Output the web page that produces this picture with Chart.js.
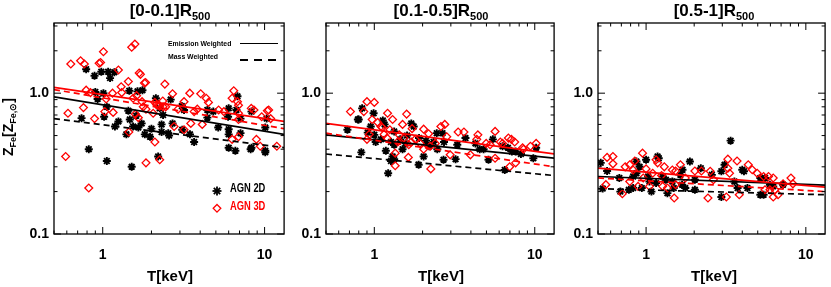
<!DOCTYPE html>
<html>
<head>
<meta charset="utf-8">
<script src="https://cdn.jsdelivr.net/npm/chart.js@4.4.1/dist/chart.umd.min.js"></script>
<style>
body { margin: 0; background: #fff; }
#wrap { position: relative; width: 831px; height: 287px; overflow: hidden;
        font-family: "Liberation Sans", Arial, sans-serif; font-weight: bold; color: #000; }
canvas { position: absolute; top: 0; }
.title { position: absolute; top: 1px; font-size: 17px; transform: translateX(-50%); white-space: nowrap; }
.title sub { font-size: 11px; vertical-align: -4px; }
.xlab { position: absolute; top: 267px; font-size: 15px; transform: translateX(-50%); white-space: nowrap; }
.ylab { position: absolute; left: 9px; top: 127px; font-size: 14px; white-space: nowrap;
        transform: translate(-50%, -50%) rotate(-90deg); }
.ylab sub { font-size: 9px; vertical-align: -3px; }
.lg { position: absolute; font-size: 8px; white-space: nowrap; line-height: 10px; transform: scaleX(0.86); transform-origin: left center; }
.agn { position: absolute; font-size: 12px; white-space: nowrap; line-height: 14px; transform: scaleX(0.78); transform-origin: left center; }
</style>
</head>
<body>
<div id="wrap">
  <canvas id="c1" width="290" height="287" style="left:0px"></canvas>
  <canvas id="c2" width="270" height="287" style="left:290px"></canvas>
  <canvas id="c3" width="271" height="287" style="left:560px"></canvas>

  <div class="title" style="left:170px">[0-0.1]R<sub>500</sub></div>
  <div class="title" style="left:441px">[0.1-0.5]R<sub>500</sub></div>
  <div class="title" style="left:714px">[0.5-1]R<sub>500</sub></div>

  <div class="xlab" style="left:170px">T[keV]</div>
  <div class="xlab" style="left:441px">T[keV]</div>
  <div class="xlab" style="left:714px">T[keV]</div>

  <div class="ylab">Z<sub>Fe</sub>[Z<sub>Fe,⊙</sub>]</div>

  <div class="lg" style="left:168px; top:39px">Emission Weighted</div>
  <div style="position:absolute; left:240px; top:43px; width:38px; height:0; border-top:1.6px solid #000"></div>
  <div class="lg" style="left:168px; top:52px">Mass Weighted</div>
  <div style="position:absolute; left:240px; top:59px; width:38px; height:1.6px;
              background:repeating-linear-gradient(90deg,#000 0 8px,transparent 8px 14px)"></div>

  <svg style="position:absolute; left:212px; top:185px" width="12" height="30">
    <g stroke="#000" stroke-width="1.8">
      <line x1="5" y1="1.5" x2="5" y2="10.5"/><line x1="0.5" y1="6" x2="9.5" y2="6"/>
      <line x1="1.8" y1="2.8" x2="8.2" y2="9.2"/><line x1="8.2" y1="2.8" x2="1.8" y2="9.2"/>
    </g>
    <path d="M5 19.5 L8.8 23.3 L5 27.1 L1.2 23.3 Z" fill="none" stroke="#f00" stroke-width="1.3"/>
  </svg>
  <div class="agn" style="left:230px; top:181px">AGN 2D</div>
  <div class="agn" style="left:230px; top:199px; color:#f00">AGN 3D</div>
</div>

<script>
// axis ranges and ticks (shared by all three panels)
const T_MIN = 0.5, T_MAX = 13.2;
const Z_MIN = 0.1, Z_MAX = 3.15;
const X_TICKS = [0.5, 0.6, 0.7, 0.8, 0.9, 1, 2, 3, 4, 5, 6, 7, 8, 9, 10];
const X_MAJOR = [1, 10];
const X_LABELS = ['1', '10'];
const Y_TICKS = [0.1, 0.2, 0.3, 0.4, 0.5, 0.6, 0.7, 0.8, 0.9, 1, 2, 3];
const Y_MAJOR = [0.1, 1];
const Y_LABELS = ['0.1', '1.0'];

// end points of the power-law fits, T values
const FIT_T = [0.5, 13.2];

// [0-0.1] R500
const p1_agn2d = [
  [0.79,1.48],[0.89,1.33],[0.98,1.42],[1.08,1.42],[1.18,1.41],[1.11,1.28],[0.90,1.02],[1.01,1.0],
  [0.93,0.91],[1.46,1.04],[1.64,1.03],[1.76,1.05],[1.06,0.80],[1.44,0.75],[1.61,0.69],[0.74,0.665],
  [1.02,0.68],[1.19,0.58],[1.25,0.63],[1.54,0.58],[1.66,0.57],[1.74,0.61],[2.0,0.56],[1.40,0.51],
  [1.82,0.51],[1.96,0.49],[2.31,0.60],[2.31,0.53],[0.82,0.40],[1.06,0.33],[1.51,0.30],[2.20,0.355],
  [2.25,0.78],[2.36,0.70],[1.47,0.65],[2.54,0.52],[2.13,0.92],
  [2.63,0.90],[3.08,0.81],[3.18,0.76],[2.7,0.61],[3.1,0.55],[3.46,0.51],[3.67,0.45],[4.43,0.76],
  [4.82,0.74],[4.43,0.67],[5.17,0.57],[6.0,0.78],[5.95,0.68],[6.8,0.95],[7.1,0.66],[7.1,0.52],
  [6.0,0.51],[6.0,0.41],[6.6,0.39],[8.3,0.41],[8.2,0.40],[10.1,0.57],[10.3,0.66],[10.1,0.39],
  [2.57,0.50],[10.1,0.38],[6.7,0.76],[8.3,0.74],[6.0,0.555]
];
const p1_agn3d = [
  [1.58,2.23],[1.51,2.12],[1.01,1.97],[0.635,1.61],[0.73,1.70],[0.77,1.61],[0.95,1.63],[0.97,1.65],
  [1.25,1.46],[1.30,1.11],[1.68,1.39],[1.71,1.36],[1.81,1.18],[1.84,1.19],[2.42,1.16],[1.15,1.0],
  [0.79,1.05],[0.84,1.01],[1.05,0.91],[1.31,1.01],[1.54,0.92],[1.75,0.87],[2.1,0.86],[2.2,0.82],
  [2.35,0.88],[2.45,0.80],[0.61,0.72],[0.76,0.79],[0.89,0.66],[1.03,0.74],[1.16,0.73],[1.59,0.71],
  [1.66,0.67],[1.45,0.53],[2.10,0.45],[0.59,0.355],[1.85,0.32],[2.25,0.337],[0.82,0.212],
  [1.44,1.21],[1.78,0.80],[1.85,0.77],[1.62,0.96],[2.15,0.83],[2.25,0.81],[2.36,0.80],[2.05,0.72],
  [6.45,1.04],[6.3,0.92],[6.8,0.87],[3.45,1.0],[4.03,0.99],[4.36,0.92],[4.5,0.86],[3.18,0.87],
  [2.7,0.99],[2.92,0.77],[3.67,0.74],[3.84,0.77],[5.2,0.76],[5.6,0.74],[6.9,0.82],[6.9,0.72],
  [6.9,0.65],[8.6,0.76],[9.6,0.68],[10.4,0.75],[10.9,0.66],[2.76,0.58],[3.18,0.55],[3.5,0.61],
  [4.12,0.60],[6.3,0.47],[6.9,0.49],[8.9,0.47],[11.9,0.42],[9.4,0.42],[8.27,0.78],[10.6,0.76]
];
const p1_em2d = [0.94, 0.51];
const p1_mw2d = [0.66, 0.41];
const p1_em3d = [1.10, 0.63];
const p1_mw3d = [1.06, 0.56];

// [0.1-0.5] R500
const p2_agn2d = [
  [0.79,0.65],[0.80,0.65],[0.68,0.55],[0.84,0.78],[0.99,0.72],[0.91,0.525],[1.13,0.64],[1.16,0.60],
  [1.0,0.506],[1.02,0.45],[1.33,0.535],[1.70,0.61],[1.76,0.58],[1.27,0.45],[1.33,0.43],[1.57,0.44],
  [0.83,0.38],[1.18,0.39],[1.30,0.355],[1.33,0.34],[1.27,0.33],[2.03,0.355],[1.89,0.31],[1.22,0.27],
  [2.45,0.52],[2.34,0.45],[1.45,0.47],[1.6,0.50],[1.9,0.48],[2.1,0.46],[2.2,0.42],[1.5,0.40],
  [1.1,0.47],[0.95,0.58],[2.47,0.40],[3.29,0.43],[4.8,0.40],
  [2.66,0.52],[2.72,0.45],[2.70,0.337],[3.21,0.34],[3.70,0.48],[4.27,0.44],[4.54,0.40],[5.15,0.337],
  [5.48,0.47],[6.3,0.42],[6.8,0.41],[7.2,0.385],[7.6,0.385],[8.2,0.37],[6.5,0.285],[9.8,0.345],
  [10.2,0.41]
];
const p2_agn3d = [
  [0.71,0.74],[0.90,0.87],[1.0,0.86],[0.86,0.74],[0.97,0.65],[1.21,0.72],[1.59,0.71],[1.30,0.65],
  [1.10,0.58],[1.12,0.57],[0.93,0.51],[0.90,0.47],[1.15,0.51],[1.5,0.60],[1.72,0.56],[2.03,0.555],
  [2.18,0.515],[1.43,0.506],[1.53,0.48],[1.80,0.47],[1.93,0.44],[1.64,0.43],[2.03,0.40],[2.23,0.42],
  [1.35,0.375],[1.63,0.35],[1.35,0.305],[2.25,0.29],[1.25,0.55],[1.4,0.45],[1.7,0.45],[2.4,0.44],
  [1.05,0.62],[1.2,0.48],
  [2.60,0.58],[2.75,0.60],[2.83,0.49],[3.33,0.53],[3.62,0.53],[2.97,0.365],[4.42,0.506],[4.35,0.47],
  [5.66,0.535],[4.98,0.44],[5.27,0.43],[6.1,0.45],[6.3,0.44],[6.85,0.48],[7.15,0.47],[7.5,0.45],
  [8.4,0.41],[9.4,0.42],[10.2,0.44],[3.97,0.365],[5.66,0.345],[6.98,0.30],[7.6,0.32],[8.5,0.40]
];
const p2_em2d = [0.506, 0.346];
const p2_mw2d = [0.37, 0.26];
const p2_em3d = [0.61, 0.37];
const p2_mw3d = [0.52, 0.30];

// [0.5-1] R500
const p3_agn2d = [
  [0.52,0.32],[0.57,0.28],[0.535,0.21],[0.68,0.25],[0.87,0.327],[0.91,0.30],[1.0,0.337],[1.18,0.355],
  [1.2,0.345],[0.83,0.256],[0.87,0.27],[0.78,0.206],[0.83,0.212],[1.03,0.256],[1.05,0.236],[1.155,0.23],
  [1.27,0.256],[1.33,0.243],[1.36,0.195],[1.46,0.236],[1.49,0.212],[1.64,0.263],[1.69,0.286],[1.88,0.327],
  [1.68,0.224],[1.76,0.212],[2.02,0.243],[2.2,0.293],[2.02,0.206],[0.69,0.2],[0.94,0.212],[1.08,0.2],
  [3.38,0.46],[3.1,0.31],[2.96,0.279],[4.0,0.286],[4.1,0.279],[3.57,0.236],[3.74,0.212],[4.31,0.212],
  [5.19,0.25],[5.56,0.25],[5.19,0.19],[5.44,0.19],[5.96,0.224],[6.25,0.218],[7.2,0.224],[2.96,0.183],
  [2.58,0.263]
];
const p3_agn3d = [
  [0.57,0.35],[0.62,0.355],[0.62,0.315],[0.95,0.375],[0.74,0.30],[0.79,0.31],[0.83,0.285],[1.155,0.337],
  [1.18,0.32],[1.30,0.30],[1.46,0.285],[1.53,0.28],[1.64,0.31],[2.02,0.28],[2.22,0.28],[0.56,0.224],
  [0.89,0.218],[0.71,0.193],[1.05,0.218],[1.27,0.218],[1.36,0.212],[1.53,0.224],[1.76,0.25],[2.44,0.18],
  [0.96,0.25],[0.79,0.236],[1.5,0.18],[1.0,0.29],[1.1,0.27],[1.25,0.26],[0.85,0.33],
  [3.25,0.34],[3.71,0.33],[3.25,0.293],[3.33,0.27],[4.36,0.31],[4.62,0.286],[4.96,0.27],[5.44,0.256],
  [5.84,0.256],[6.25,0.25],[8.07,0.25],[8.3,0.227],[7.2,0.227],[5.55,0.206],[5.96,0.206],[6.4,0.206],
  [6.7,0.19],[6.25,0.183],[3.83,0.19],[3.18,0.183],[2.52,0.279],[2.64,0.243]
];
const p3_em2d = [0.256, 0.222];
const p3_mw2d = [0.21, 0.19];
const p3_em3d = [0.294, 0.215];
const p3_mw3d = [0.25, 0.20];

// box + inward IDL style ticks on all four sides
const framePlugin = {
  id: 'frame',
  afterDraw(chart) {
    const { ctx, chartArea: a, scales: { x, y } } = chart;
    ctx.save();
    ctx.strokeStyle = '#000';
    ctx.lineWidth = 1.3;
    ctx.strokeRect(a.left, a.top, a.right - a.left, a.bottom - a.top);
    ctx.lineWidth = 1;
    ctx.beginPath();
    Y_TICKS.forEach(v => {
      const p = y.getPixelForValue(v);
      const len = Y_MAJOR.includes(v) ? 7 : 3.5;
      ctx.moveTo(a.left, p); ctx.lineTo(a.left + len, p);
      ctx.moveTo(a.right, p); ctx.lineTo(a.right - len, p);
    });
    X_TICKS.forEach(v => {
      const p = x.getPixelForValue(v);
      const len = X_MAJOR.includes(v) ? 7 : 3.5;
      ctx.moveTo(p, a.bottom); ctx.lineTo(p, a.bottom - len);
      ctx.moveTo(p, a.top); ctx.lineTo(p, a.top + len);
    });
    ctx.stroke();
    ctx.restore();
  }
};

function fitLine(vals, color, dashed) {
  return {
    data: FIT_T.map((t, i) => ({ x: t, y: vals[i] })),
    showLine: true,
    borderColor: color,
    borderWidth: 1.7,
    borderDash: dashed ? [6, 4] : [],
    pointRadius: 0,
    fill: false
  };
}

function makePanel(id, agn2d, agn3d, em2d, mw2d, em3d, mw3d, yWidth, rightPad) {
  const tickFont = { family: 'Liberation Sans', weight: 'bold', size: 14 };
  new Chart(document.getElementById(id), {
    type: 'scatter',
    data: {
      datasets: [
        fitLine(em3d, '#ff0000', false),
        fitLine(mw3d, '#ff0000', true),
        fitLine(em2d, '#000000', false),
        fitLine(mw2d, '#000000', true),
        {
          label: 'AGN 3D',
          data: agn3d.map(([x, y]) => ({ x, y })),
          pointStyle: 'rectRot',
          pointRadius: 3.9,
          pointBorderColor: '#ff0000',
          pointBackgroundColor: 'rgba(255,255,255,0)',
          pointBorderWidth: 1.3
        },
        {
          label: 'AGN 2D',
          data: agn2d.map(([x, y]) => ({ x, y })),
          pointStyle: 'star',
          pointRadius: 4,
          pointBorderColor: '#000000',
          pointBackgroundColor: '#000000',
          pointBorderWidth: 1.9
        }
      ]
    },
    options: {
      responsive: false,
      animation: false,
      layout: { padding: { top: 23, right: rightPad, left: 0, bottom: 0 } },
      plugins: { legend: { display: false }, tooltip: { enabled: false } },
      scales: {
        x: {
          type: 'logarithmic',
          min: T_MIN,
          max: T_MAX,
          grid: { display: false, drawTicks: false },
          border: { display: false },
          afterBuildTicks: s => { s.ticks = X_TICKS.map(v => ({ value: v })); },
          afterFit: s => { s.height = 53; },
          ticks: {
            autoSkip: false,
            maxRotation: 0,
            padding: 13,
            color: '#000',
            font: tickFont,
            callback: v => { const i = X_MAJOR.indexOf(v); return i >= 0 ? X_LABELS[i] : ''; }
          }
        },
        y: {
          type: 'logarithmic',
          min: Z_MIN,
          max: Z_MAX,
          grid: { display: false, drawTicks: false },
          border: { display: false },
          afterBuildTicks: s => { s.ticks = Y_TICKS.map(v => ({ value: v })); },
          afterFit: s => { s.width = yWidth; },
          ticks: {
            autoSkip: false,
            padding: 5,
            color: '#000',
            font: tickFont,
            callback: v => { const i = Y_MAJOR.indexOf(v); return i >= 0 ? Y_LABELS[i] : ''; }
          }
        }
      }
    },
    plugins: [framePlugin]
  });
}

makePanel('c1', p1_agn2d, p1_agn3d, p1_em2d, p1_mw2d, p1_em3d, p1_mw3d, 54, 4);
makePanel('c2', p2_agn2d, p2_agn3d, p2_em2d, p2_mw2d, p2_em3d, p2_mw3d, 36, 3);
makePanel('c3', p3_agn2d, p3_agn3d, p3_em2d, p3_mw2d, p3_em3d, p3_mw3d, 38, 1);
</script>
</body>
</html>
